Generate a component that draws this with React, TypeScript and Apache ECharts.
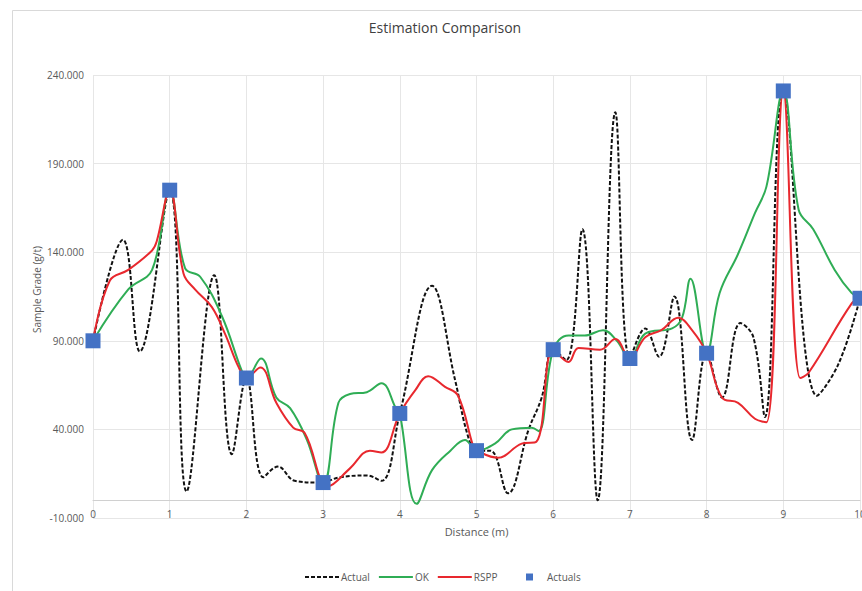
import React, { useEffect, useRef } from "react";
import * as echarts from "echarts";

const titleText = "Estimation Comparison";
const xAxisName = "Distance (m)";
const yAxisName = "Sample Grade (g/t)";

// Blue squares (sample points)
const actualsX = [0, 1, 2, 3, 4, 5, 6, 7, 8, 9, 10];
const actualsY = [90, 175, 69, 10, 49, 28, 85, 80, 83, 231, 114];

// Dashed black "Actual"
const actualX = [0, 0.39, 0.61, 1, 1.22, 1.58, 1.81, 2, 2.22, 2.41, 2.63, 2.96, 3.22, 3.57, 3.76, 4, 4.42, 4.72, 4.89, 5, 5.18, 5.41, 5.68, 5.85, 6, 6.17, 6.38, 6.58, 6.81, 7, 7.2, 7.38, 7.58, 7.81, 8, 8.2, 8.44, 8.61, 8.76, 9, 9.44, 9.72, 10];
const actualY = [90, 147, 84, 175, 5, 127, 26, 69, 13, 19, 11, 10, 13, 14, 11, 49, 121, 68, 36, 28, 28, 4, 40, 58, 85, 79, 153, 0, 219, 80, 97, 81, 115, 34, 83, 58, 100, 92, 47, 231, 59, 77, 114];

// Green "OK"
const okX = [0, 0.46, 0.77, 1, 1.2, 1.4, 1.68, 1.94, 2, 2.19, 2.39, 2.57, 2.79, 3, 3.2, 3.35, 3.57, 3.76, 3.96, 4, 4.22, 4.42, 4.66, 4.85, 5, 5.24, 5.46, 5.72, 5.81, 6, 6.2, 6.41, 6.65, 6.83, 7, 7.2, 7.55, 7.68, 7.79, 8, 8.17, 8.41, 8.63, 8.78, 9, 9.2, 9.39, 9.67, 9.89, 10];
const okY = [90, 119, 130, 175, 131, 126, 104, 73, 69, 80, 58, 52, 34, 9, 55, 60, 61, 66, 51, 49, -2, 17, 28, 34, 28, 32, 40, 41, 39, 85, 93, 93, 96, 90, 80, 94, 97, 103, 125, 83, 117, 139, 162, 177, 231, 164, 153, 130, 117, 114];

// Red "RSPP"
const rsppX = [0, 0.22, 0.46, 0.77, 0.83, 1, 1.18, 1.33, 1.55, 1.72, 1.9, 2, 2.18, 2.39, 2.61, 2.76, 3.07, 3.35, 3.61, 3.76, 4, 4.2, 4.37, 4.59, 4.76, 4.96, 5, 5.28, 5.59, 5.78, 6, 6.2, 6.33, 6.61, 6.81, 7, 7.2, 7.41, 7.63, 7.81, 8, 8.2, 8.41, 8.63, 8.78, 9, 9.22, 9.33, 9.89, 10];
const rsppY = [90, 124, 130, 141, 146, 175, 128, 119, 109, 94, 75, 69, 75, 55, 41, 38, 8, 18, 28, 27, 49, 62, 70, 64, 59, 30, 28, 24, 32, 33, 85, 78, 86, 85, 91, 80, 92, 96, 103, 96, 83, 58, 55, 46, 44, 231, 69, 72, 111, 114];

const legendLines = ["Actual", "OK", "RSPP"];
const legendMarks = ["Actuals"];

const pairs = (xs: number[], ys: number[]) => xs.map((x, i) => [x, ys[i]]);

export default function App() {
  const ref = useRef<HTMLDivElement>(null);
  useEffect(() => {
    if (!ref.current) return;
    const chart = echarts.init(ref.current, undefined, { renderer: "svg" });
    const font = "'Open Sans', 'Liberation Sans', sans-serif";
    chart.setOption({
      animation: false,
      backgroundColor: "#ffffff",
      textStyle: { fontFamily: font },
      title: {
        text: titleText,
        left: 440,
        top: 15,
        textAlign: "center",
        textStyle: { fontSize: 14, fontWeight: "normal", color: "#404040", fontFamily: font },
      },
      graphic: [
        {
          type: "rect",
          left: 10,
          top: 8,
          shape: { x: 0, y: 0, width: 900, height: 620 },
          style: { fill: "none", stroke: "#d9d9d9", lineWidth: 1 },
          silent: true,
          z: -10,
        },
      ],
      legend: [
        {
          data: legendLines,
          left: 299,
          top: 567,
          itemWidth: 34,
          itemHeight: 10,
          itemGap: 8,
          itemStyle: { opacity: 0 },
          textStyle: { fontSize: 10, color: "#595959", fontFamily: font, padding: [0, 0, 0, -3] },
        },
        {
          data: legendMarks,
          left: 521,
          top: 567,
          itemWidth: 7,
          itemHeight: 7,
          icon: "rect",
          itemStyle: { opacity: 1 },
          textStyle: { fontSize: 10, color: "#595959", fontFamily: font, padding: [0, 0, 0, 9] },
        },
      ],
      grid: { left: 93, right: 2, top: 75, bottom: 73, containLabel: false, outerBoundsMode: "none" },
      xAxis: {
        type: "value",
        min: 0,
        max: 10,
        interval: 1,
        offset: -18,
        name: xAxisName,
        nameLocation: "middle",
        nameGap: 26,
        nameMoveOverlap: false,
        nameTextStyle: { fontSize: 11, color: "#595959", fontFamily: font },
        axisLine: { show: true, onZero: false, lineStyle: { color: "#d0d0d0", width: 1 } },
        axisTick: { show: false },
        axisLabel: { fontSize: 10, color: "#595959", margin: 9, fontFamily: font },
        splitLine: { show: true, lineStyle: { color: "#e6e6e6", width: 1 } },
      },
      yAxis: {
        type: "value",
        min: -10,
        max: 240,
        interval: 50,
        name: yAxisName,
        nameLocation: "middle",
        nameGap: 56,
        nameRotate: 90,
        nameMoveOverlap: false,
        nameTextStyle: {
          fontSize: 10,
          color: "#595959",
          fontFamily: font,
          verticalAlign: "middle",
          padding: [0, 0, 0, 14],
        },
        axisLine: { show: false },
        axisTick: { show: false },
        axisLabel: {
          fontSize: 10,
          color: "#595959",
          margin: 9,
          fontFamily: font,
          formatter: (v: number) => v.toFixed(3),
        },
        splitLine: { show: true, lineStyle: { color: "#e6e6e6", width: 1 } },
      },
      series: [
        {
          name: "Actual",
          type: "line",
          data: pairs(actualX, actualY),
          smooth: 0.4,
          symbol: "none",
          lineStyle: { color: "#111111", width: 2, type: [4, 2] },
          itemStyle: { color: "#111111" },
          z: 2,
        },
        {
          name: "OK",
          type: "line",
          data: pairs(okX, okY),
          smooth: 0.4,
          symbol: "none",
          lineStyle: { color: "#2fad55", width: 2 },
          itemStyle: { color: "#2fad55" },
          z: 3,
        },
        {
          name: "RSPP",
          type: "line",
          data: pairs(rsppX, rsppY),
          smooth: 0.4,
          symbol: "none",
          lineStyle: { color: "#e8282e", width: 2 },
          itemStyle: { color: "#e8282e" },
          z: 4,
        },
        {
          name: "Actuals",
          type: "scatter",
          data: pairs(actualsX, actualsY),
          symbol: "rect",
          symbolSize: 15,
          itemStyle: { color: "#4472c4", opacity: 1 },
          z: 5,
        },
      ],
    });
    return () => chart.dispose();
  }, []);
  return (
    <div
      ref={ref}
      style={{ position: "fixed", left: 0, top: 0, width: 862, height: 591 }}
    />
  );
}
